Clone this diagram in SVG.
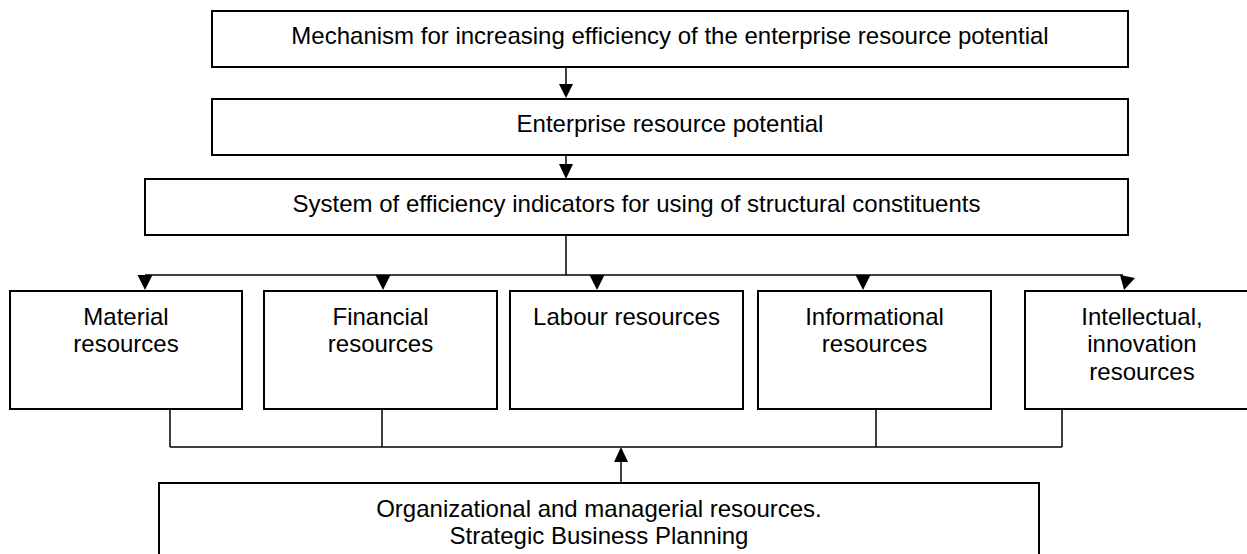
<svg xmlns="http://www.w3.org/2000/svg" width="1247" height="554" viewBox="0 0 1247 554">
<style>
.box{fill:#fff;stroke:#000;stroke-width:2}
.ln{fill:none;stroke:#000;stroke-width:1.5}
.ah{fill:#000;stroke:none}
text{font-family:"Liberation Sans",Arial,sans-serif;font-size:24px;fill:#000;text-anchor:middle}
</style>
<rect width="1247" height="554" fill="#fff"/>
<g id="connectors">
<line class="ln" x1="566" y1="67" x2="566" y2="86"/>
<polygon class="ah" points="559,84 573,84 566,98"/>
<line class="ln" x1="566" y1="155" x2="566" y2="166"/>
<polygon class="ah" points="559,164 573,164 566,179"/>
<line class="ln" x1="566" y1="235" x2="566" y2="275"/>
<line class="ln" x1="145" y1="275" x2="1123" y2="275"/>
<polygon class="ah" points="137.5,275 152.5,275 145,290"/>
<polygon class="ah" points="375.5,275 390.5,275 383,290"/>
<polygon class="ah" points="589.5,275 604.5,275 597,290"/>
<polygon class="ah" points="855.5,275 870.5,275 863,290"/>
<polygon class="ah" points="1120,275 1135,278 1124,290"/>
<line class="ln" x1="170" y1="409" x2="170" y2="447"/>
<line class="ln" x1="382" y1="409" x2="382" y2="447"/>
<line class="ln" x1="876" y1="409" x2="876" y2="447"/>
<line class="ln" x1="1062" y1="409" x2="1062" y2="447"/>
<line class="ln" x1="170" y1="447" x2="1062" y2="447"/>
<line class="ln" x1="621" y1="483" x2="621" y2="460"/>
<polygon class="ah" points="614,462 628,462 621,447"/>
</g>
<g id="mechanism">
<rect class="box" x="212" y="11" width="916" height="56"/>
<text x="670" y="44">Mechanism for increasing efficiency of the enterprise resource potential</text>
</g>
<g id="potential">
<rect class="box" x="212" y="99" width="916" height="56"/>
<text x="670" y="132">Enterprise resource potential</text>
</g>
<g id="system">
<rect class="box" x="145" y="179" width="983" height="56"/>
<text x="636.5" y="212">System of efficiency indicators for using of structural constituents</text>
</g>
<g id="material">
<rect class="box" x="10" y="291" width="232" height="118"/>
<text x="126" y="325">Material</text>
<text x="126" y="352">resources</text>
</g>
<g id="financial">
<rect class="box" x="264" y="291" width="233" height="118"/>
<text x="380.5" y="325">Financial</text>
<text x="380.5" y="352">resources</text>
</g>
<g id="labour">
<rect class="box" x="510" y="291" width="233" height="118"/>
<text x="626.5" y="325">Labour resources</text>
</g>
<g id="informational">
<rect class="box" x="758" y="291" width="233" height="118"/>
<text x="874.5" y="325">Informational</text>
<text x="874.5" y="352">resources</text>
</g>
<g id="intellectual">
<rect class="box" x="1025" y="291" width="234" height="118"/>
<text x="1142" y="325">Intellectual,</text>
<text x="1142" y="352">innovation</text>
<text x="1142" y="380">resources</text>
</g>
<g id="organizational">
<rect class="box" x="159" y="483" width="880" height="100"/>
<text x="599" y="517">Organizational and managerial resources.</text>
<text x="599" y="544">Strategic Business Planning</text>
</g>
</svg>
